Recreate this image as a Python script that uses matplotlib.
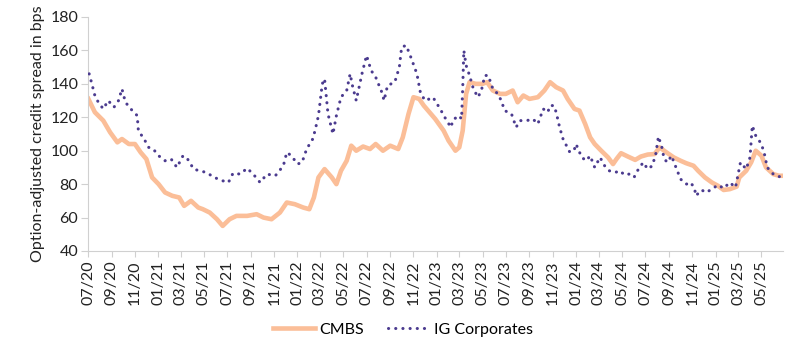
import pandas as pd
import matplotlib
matplotlib.use('Agg')
from matplotlib import pyplot as plt
import matplotlib.dates as mdates

# CMBS option-adjusted spread (bps)
cmbs_dates = [
    '2020-07-02', '2020-07-19', '2020-08-10', '2020-08-28', '2020-09-16', '2020-09-28',
    '2020-10-16', '2020-11-01', '2020-11-16', '2020-12-01', '2020-12-16', '2021-01-02',
    '2021-01-19', '2021-02-07', '2021-02-25', '2021-03-10', '2021-03-28', '2021-04-16',
    '2021-04-28', '2021-05-16', '2021-06-04', '2021-06-19', '2021-07-07', '2021-07-25',
    '2021-08-22', '2021-09-16', '2021-10-04', '2021-10-25', '2021-11-16', '2021-12-04',
    '2021-12-25', '2022-01-16', '2022-02-01', '2022-02-13', '2022-02-25', '2022-03-13',
    '2022-04-01', '2022-04-13', '2022-04-25', '2022-05-10', '2022-05-22', '2022-06-04',
    '2022-06-22', '2022-07-10', '2022-07-25', '2022-08-13', '2022-09-01', '2022-09-22',
    '2022-10-04', '2022-10-19', '2022-11-01', '2022-11-16', '2022-11-28', '2022-12-13',
    '2022-12-28', '2023-01-19', '2023-02-01', '2023-02-19', '2023-03-01', '2023-03-10',
    '2023-03-19', '2023-03-28', '2023-04-13', '2023-05-01', '2023-05-13', '2023-05-28',
    '2023-06-16', '2023-07-01', '2023-07-19', '2023-08-01', '2023-08-16', '2023-09-01',
    '2023-09-23', '2023-10-10', '2023-10-25', '2023-11-10', '2023-11-28', '2023-12-10',
    '2023-12-28', '2024-01-10', '2024-01-25', '2024-02-07', '2024-02-19', '2024-03-07',
    '2024-03-25', '2024-04-07', '2024-04-16', '2024-04-28', '2024-05-16', '2024-06-04',
    '2024-06-19', '2024-07-07', '2024-07-25', '2024-08-07', '2024-08-25', '2024-09-13',
    '2024-10-01', '2024-10-16', '2024-11-04', '2024-11-16', '2024-12-04', '2024-12-22',
    '2025-01-07', '2025-01-22', '2025-02-07', '2025-02-25', '2025-03-04', '2025-03-22',
    '2025-04-04', '2025-04-16', '2025-05-01', '2025-05-13', '2025-06-01', '2025-06-16',
    '2025-06-25',
]
cmbs_vals = [
    131, 123, 118, 111, 105, 107,
    104, 104, 99, 95, 84, 80,
    75, 73, 72, 67, 70, 66,
    65, 63, 59, 55, 59, 61,
    61, 62, 60, 59, 63, 69,
    68, 66, 65, 72, 84, 89,
    84, 80, 88, 94, 103, 100,
    102.5, 101, 104, 100, 103, 101,
    108, 122, 132, 131, 127, 123,
    119, 112, 106, 100, 102, 112,
    134, 141, 140, 140, 141, 136,
    134, 134, 136, 129, 133, 131,
    132, 136, 141, 138, 136, 131,
    125, 124, 116, 108, 104, 100,
    96, 92, 95, 98.5, 96.5, 94.5,
    96.5, 97.7, 98, 102, 99, 96,
    94, 92.5, 91, 88, 84, 81,
    79, 76.5, 77, 78.5, 84, 88,
    93, 100, 97, 90, 86, 85,
    85,
]

# IG corporates option-adjusted spread (bps)
ig_dates = [
    '2020-07-04', '2020-07-10', '2020-07-19', '2020-07-28', '2020-08-10', '2020-08-23',
    '2020-09-07', '2020-09-19', '2020-09-28', '2020-10-07', '2020-10-25', '2020-11-07',
    '2020-11-10', '2020-11-25', '2020-12-07', '2020-12-19', '2021-01-02', '2021-01-19',
    '2021-02-04', '2021-02-19', '2021-03-07', '2021-03-19', '2021-04-04', '2021-04-19',
    '2021-05-07', '2021-05-28', '2021-06-19', '2021-07-04', '2021-07-16', '2021-08-04',
    '2021-08-22', '2021-09-07', '2021-09-25', '2021-10-13', '2021-11-04', '2021-11-25',
    '2021-12-04', '2021-12-16', '2022-01-01', '2022-01-13', '2022-01-25', '2022-02-10',
    '2022-02-16', '2022-02-25', '2022-03-07', '2022-03-13', '2022-03-22', '2022-04-04',
    '2022-04-13', '2022-04-25', '2022-05-10', '2022-05-19', '2022-05-25', '2022-06-04',
    '2022-06-19', '2022-07-01', '2022-07-13', '2022-07-25', '2022-08-10', '2022-08-16',
    '2022-08-25', '2022-09-13', '2022-09-25', '2022-10-01', '2022-10-13', '2022-10-25',
    '2022-11-10', '2022-11-19', '2022-12-01', '2022-12-13', '2022-12-22', '2023-01-10',
    '2023-01-22', '2023-02-07', '2023-02-13', '2023-02-28', '2023-03-07', '2023-03-10',
    '2023-03-13', '2023-03-19', '2023-03-28', '2023-04-07', '2023-04-19', '2023-04-28',
    '2023-05-07', '2023-05-16', '2023-05-28', '2023-06-10', '2023-06-19', '2023-06-28',
    '2023-07-16', '2023-07-28', '2023-08-07', '2023-08-25', '2023-09-10', '2023-09-23',
    '2023-10-07', '2023-10-19', '2023-10-25', '2023-11-04', '2023-11-10', '2023-11-19',
    '2023-11-28', '2023-12-07', '2023-12-16', '2023-12-28', '2024-01-01', '2024-01-16',
    '2024-01-28', '2024-02-07', '2024-02-19', '2024-03-04', '2024-03-16', '2024-03-28',
    '2024-04-13', '2024-04-25', '2024-05-07', '2024-05-19', '2024-06-01', '2024-06-10',
    '2024-06-25', '2024-07-07', '2024-07-19', '2024-07-28', '2024-08-04', '2024-08-13',
    '2024-08-19', '2024-08-28', '2024-09-07', '2024-09-19', '2024-10-01', '2024-10-16',
    '2024-10-28', '2024-11-07', '2024-11-10', '2024-11-25', '2024-12-07', '2024-12-22',
    '2025-01-07', '2025-01-22', '2025-02-07', '2025-02-22', '2025-03-01', '2025-03-07',
    '2025-03-22', '2025-04-01', '2025-04-07', '2025-04-16', '2025-05-01', '2025-05-10',
    '2025-05-16', '2025-06-01', '2025-06-13', '2025-06-25',
]
ig_vals = [
    146, 141, 133, 129, 125, 130,
    126, 130, 137, 129, 124, 121,
    112, 107, 102, 101, 97, 94,
    95, 90, 97, 95, 89, 88,
    87, 84, 82, 81, 86.5, 86,
    89.5, 86, 81, 86, 85, 91,
    99, 97, 92, 93, 101, 107,
    112, 121, 140, 143, 122, 110,
    121, 132, 136, 146, 139, 130,
    146, 157, 148, 144, 135, 130,
    139, 141, 150, 162, 163, 156,
    146, 135, 130, 131, 132, 125,
    120, 114, 118.5, 121, 119, 137,
    160, 151, 145, 137, 132, 136,
    145, 145, 137, 134, 130, 124,
    122, 114, 118, 118, 119, 116,
    125, 123, 127, 127, 123, 114,
    107, 103, 99, 101, 104, 96,
    94, 97, 90, 96, 91, 88,
    87, 88, 85.5, 86, 84, 88,
    93, 89, 91, 98, 108.5, 102,
    95, 93, 97, 90, 83, 80,
    81, 77, 73, 76.5, 75, 77,
    79.5, 77.5, 81, 78, 86, 93,
    89, 96, 115, 109, 104, 97,
    90, 86, 84.5, 84.5,
]

CMBS_COLOR = '#FBBE98'
IG_COLOR = '#4B3B8F'
SPINE_COLOR = '#D0D0D0'

plt.rcParams['font.family'] = ['Lato', 'DejaVu Sans']
plt.rcParams['font.size'] = 11.5

cmbs = pd.Series(cmbs_vals, index=pd.to_datetime(cmbs_dates))
ig = pd.Series(ig_vals, index=pd.to_datetime(ig_dates))

fig = plt.figure(figsize=(8, 3.54), dpi=100)
ax = fig.add_axes([0.11, 0.291, 0.869, 0.661])

ax.plot(cmbs.index, cmbs.values, color=CMBS_COLOR, lw=3.3, label='CMBS',
        solid_joinstyle='round', zorder=2)
ax.plot(ig.index, ig.values, color=IG_COLOR, lw=2.2,
        linestyle=(0, (0.05, 2.3)), dash_capstyle='round',
        label='IG Corporates', zorder=3)

ax.set_ylim(40, 180)
ax.set_yticks(range(40, 181, 20))
ax.set_xlim(pd.Timestamp('2020-07-01'), pd.Timestamp('2025-06-27'))
ax.xaxis.set_major_locator(mdates.MonthLocator(bymonth=[1, 3, 5, 7, 9, 11]))
ax.xaxis.set_major_formatter(mdates.DateFormatter('%m/%y'))
plt.setp(ax.get_xticklabels(), rotation=90)

for side in ['top', 'right']:
    ax.spines[side].set_visible(False)
for side in ['left', 'bottom']:
    ax.spines[side].set_color(SPINE_COLOR)
ax.tick_params(axis='both', colors=SPINE_COLOR, labelcolor='#222222')
ax.tick_params(axis='y', length=5, pad=2)
ax.tick_params(axis='x', length=4, pad=3)

ax.set_ylabel('Option-adjusted credit spread in bps', color='#222222')

fig.legend(loc='center', bbox_to_anchor=(0.504, 0.068), ncol=2, frameon=False,
           handlelength=2.6, columnspacing=1.5, handletextpad=0.3)

fig.savefig('out.png', dpi=100)
